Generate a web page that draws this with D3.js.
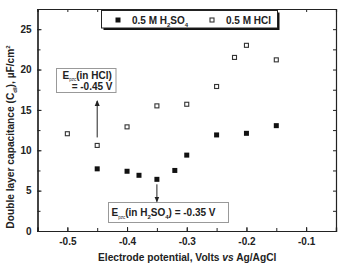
<!DOCTYPE html>
<html>
<head>
<meta charset="utf-8">
<script src="https://cdn.jsdelivr.net/npm/d3@7"></script>
<style>
body { margin: 0; background: #fff; }
text { font-family: "Liberation Sans", Arial, sans-serif; font-weight: bold; }
</style>
</head>
<body>
<div id="chart"></div>
<script>
// potentials (V vs Ag/AgCl) and capacitances (uF/cm2)
const h2so4X = [-0.45, -0.40, -0.38, -0.35, -0.32, -0.30, -0.25, -0.20, -0.15];
const h2so4Y = [7.7, 7.4, 6.9, 6.4, 7.5, 9.4, 11.9, 12.1, 13.05];
const hclX = [-0.50, -0.45, -0.40, -0.35, -0.30, -0.25, -0.22, -0.20, -0.15];
const hclY = [12.05, 10.6, 12.9, 15.5, 15.7, 17.9, 21.5, 23.0, 21.2];
const xTickLabels = [-0.5, -0.4, -0.3, -0.2, -0.1];
const yTickLabels = [0, 5, 10, 15, 20, 25];

const width = 338, height = 264;
const mLeft = 37.5, mRight = 336, mTop = 9, mBottom = 231;

const svg = d3.select('#chart').append('svg')
    .attr('width', width).attr('height', height);

let x = d3.scaleLinear().domain([-0.55, -0.05]).range([mLeft, mRight]);
let y = d3.scaleLinear().domain([0, 27.5]).range([mBottom, mTop]);

let xMinor = d3.range(-0.55, -0.049, 0.05);
let yMinor = d3.range(0, 27.6, 2.5);
let fmt = d => String(d).replace('−', '-');

let xAxis = d3.axisBottom(x).tickValues(xTickLabels).tickSize(-4).tickPadding(7).tickFormat(fmt);
let xAxisMinor = d3.axisBottom(x).tickValues(xMinor).tickSize(-3).tickFormat('');
let yAxis = d3.axisLeft(y).tickValues(yTickLabels).tickSize(-4).tickPadding(6).tickFormat(fmt);
let yAxisMinor = d3.axisLeft(y).tickValues(yMinor).tickSize(-3).tickFormat('');

svg.append('g').attr('transform', 'translate(0,' + mBottom + ')').call(xAxisMinor);
svg.append('g').attr('transform', 'translate(0,' + mBottom + ')').call(xAxis);
svg.append('g').attr('transform', 'translate(0,' + mTop + ')')
    .call(d3.axisTop(x).tickValues(xMinor).tickSize(-3).tickFormat(''));
svg.append('g').attr('transform', 'translate(' + mLeft + ',0)').call(yAxisMinor);
svg.append('g').attr('transform', 'translate(' + mLeft + ',0)').call(yAxis);
svg.append('g').attr('transform', 'translate(' + mRight + ',0)')
    .call(d3.axisRight(y).tickValues(yMinor).tickSize(-3).tickFormat(''));

svg.selectAll('.domain').attr('stroke', '#222').attr('stroke-width', 1.2);
svg.selectAll('.tick line').attr('stroke', '#222');
svg.selectAll('.tick text').style('font-size', '10px').attr('fill', '#222');

// axis titles
svg.append('text')
    .attr('x', 98).attr('y', 261)
    .style('font-size', '10.2px')
    .attr('fill', '#222')
    .call(t => {
        t.append('tspan').text('Electrode potential, Volts ');
        t.append('tspan').style('font-style', 'italic').text('vs');
        t.append('tspan').text(' Ag/AgCl');
    });

let yTitle = svg.append('text')
    .attr('transform', 'translate(14,' + 137 + ') rotate(-90)')
    .style('text-anchor', 'middle')
    .style('font-size', '10.2px')
    .attr('fill', '#222');
yTitle.append('tspan').text('Double layer capacitance (C');
yTitle.append('tspan').attr('dy', 3).style('font-size', '6px').text('dl');
yTitle.append('tspan').attr('dy', -3).text('), \u00b5F/cm');
yTitle.append('tspan').attr('dy', -4).style('font-size', '6px').text('2');

// points
const sq = 5;
svg.selectAll('.h2so4').data(h2so4X.map((d, i) => ({x: d, y: h2so4Y[i]})))
    .enter().append('rect')
    .attr('x', d => x(d.x) - sq / 2).attr('y', d => y(d.y) - sq / 2)
    .attr('width', sq).attr('height', sq)
    .style('fill', '#111');

svg.selectAll('.hcl').data(hclX.map((d, i) => ({x: d, y: hclY[i]})))
    .enter().append('rect')
    .attr('x', d => x(d.x) - sq / 2 + 0.5).attr('y', d => y(d.y) - sq / 2 + 0.5)
    .attr('width', sq - 1).attr('height', sq - 1)
    .style('fill', '#fff').style('stroke', '#333').style('stroke-width', 1.1);

// legend
let lg = svg.append('g');
lg.append('rect').attr('x', 103.5).attr('y', 12.5).attr('width', 176).attr('height', 17.5).style('fill', '#111');
lg.append('rect').attr('x', 101.5).attr('y', 10.5).attr('width', 176).attr('height', 17.5)
    .style('fill', '#fff').style('stroke', '#222').style('stroke-width', 1);
lg.append('rect').attr('x', 115.5).attr('y', 17.5).attr('width', sq).attr('height', sq).style('fill', '#111');
lg.append('text').attr('x', 132).attr('y', 23.5).style('font-size', '10px').attr('fill', '#222')
    .call(t => {
        t.append('tspan').text('0.5 M H');
        t.append('tspan').attr('dy', 3).style('font-size', '6px').text('2');
        t.append('tspan').attr('dy', -3).text('SO');
        t.append('tspan').attr('dy', 3).style('font-size', '6px').text('4');
    });
lg.append('rect').attr('x', 210).attr('y', 18).attr('width', sq - 1).attr('height', sq - 1)
    .style('fill', '#fff').style('stroke', '#333').style('stroke-width', 1.1);
lg.append('text').attr('x', 226).attr('y', 23.5).style('font-size', '10px').attr('fill', '#222').text('0.5 M HCl');

// annotation: HCl pzc
let a1 = svg.append('g');
a1.append('rect').attr('x', 56.5).attr('y', 68.5).attr('width', 59.5).attr('height', 24)
    .style('fill', '#fff').style('stroke', '#999').style('stroke-width', 1);
let t1 = a1.append('text').attr('x', 62.5).attr('y', 78.5).style('font-size', '10px').attr('fill', '#222');
t1.append('tspan').text('E');
t1.append('tspan').attr('dy', 2).style('font-size', '4.5px').style('font-weight', 'normal').text('pzc');
t1.append('tspan').attr('dy', -2).text('(in HCl)');
a1.append('text').attr('x', 112.5).attr('y', 90).style('text-anchor', 'end')
    .style('font-size', '10px').attr('fill', '#222').text('= -0.45 V');

// annotation: H2SO4 pzc
let a2 = svg.append('g');
a2.append('rect').attr('x', 108.5).attr('y', 202.5).attr('width', 120).attr('height', 20)
    .style('fill', '#fff').style('stroke', '#999').style('stroke-width', 1);
let t2 = a2.append('text').attr('x', 111.5).attr('y', 216).style('font-size', '10px').attr('fill', '#222');
t2.append('tspan').text('E');
t2.append('tspan').attr('dy', 2.5).style('font-size', '4.5px').style('font-weight', 'normal').text('pzc');
t2.append('tspan').attr('dy', -2.5).text('(in H');
t2.append('tspan').attr('dy', 3).style('font-size', '6px').text('2');
t2.append('tspan').attr('dy', -3).text('SO');
t2.append('tspan').attr('dy', 3).style('font-size', '6px').text('4');
t2.append('tspan').attr('dy', -3).text(') = -0.35 V');

// arrows
svg.append('defs').append('marker')
    .attr('id', 'ah').attr('viewBox', '0 0 6 6').attr('refX', 5).attr('refY', 3)
    .attr('markerWidth', 6).attr('markerHeight', 6).attr('orient', 'auto')
    .append('path').attr('d', 'M0,0.5L6,3L0,5.5Z').style('fill', '#222');

svg.append('line')
    .attr('x1', x(-0.45)).attr('y1', y(hclY[1]) - 8)
    .attr('x2', x(-0.45)).attr('y2', 101)
    .style('stroke', '#222').style('stroke-width', 1)
    .attr('marker-end', 'url(#ah)');
svg.append('line')
    .attr('x1', x(-0.35)).attr('y1', y(h2so4Y[3]) + 5)
    .attr('x2', x(-0.35)).attr('y2', 201.5)
    .style('stroke', '#222').style('stroke-width', 1)
    .attr('marker-end', 'url(#ah)');
</script>
</body>
</html>
